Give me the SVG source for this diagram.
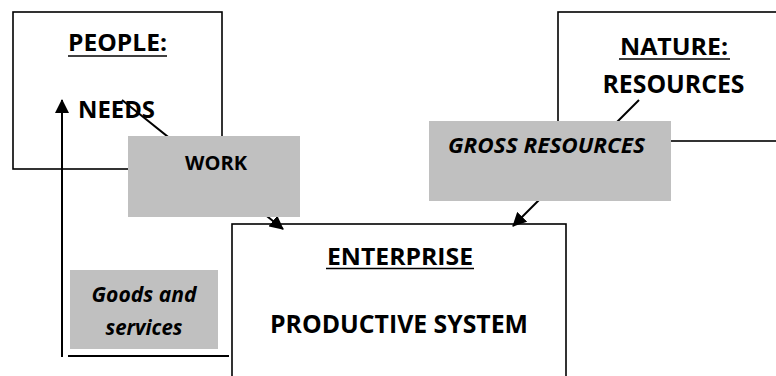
<svg xmlns="http://www.w3.org/2000/svg" width="776" height="376" viewBox="0 0 776 376">
<defs>
<style>
.box{fill:#fff;stroke:#000;stroke-width:1.6}
.lab{fill:#c0c0c0;stroke:none}
.t{font-family:"Open Sans","Liberation Sans",Arial,sans-serif;font-weight:bold;fill:#000;text-anchor:middle}
.i{font-style:italic}
.ul{stroke:#000;stroke-width:1.6}
.c{stroke:#000;stroke-width:2;fill:none}
</style>
<marker id="ah" viewBox="0 0 14 14" refX="13" refY="7" markerWidth="14" markerHeight="14" markerUnits="userSpaceOnUse" orient="auto">
<path d="M0,0 L14,7 L0,14 Z" fill="#000"/>
</marker>
</defs>
<rect width="776" height="376" fill="#fff"/>
<g id="people">
<rect class="box" x="13" y="12" width="209" height="157"/>
<text class="t" x="117.5" y="51" font-size="23.5" textLength="99" lengthAdjust="spacingAndGlyphs">PEOPLE:</text>
<line class="ul" x1="68" y1="56" x2="167" y2="56"/>
<text class="t" x="116.5" y="118" font-size="23.5" textLength="77" lengthAdjust="spacingAndGlyphs">NEEDS</text>
</g>
<g id="nature">
<rect class="box" x="558" y="12" width="230" height="129"/>
<text class="t" x="674" y="55" font-size="24" textLength="108" lengthAdjust="spacingAndGlyphs">NATURE:</text>
<line class="ul" x1="619" y1="59" x2="730" y2="59"/>
<text class="t" x="673.5" y="93" font-size="25" textLength="142" lengthAdjust="spacingAndGlyphs">RESOURCES</text>
</g>
<g id="enterprise">
<rect class="box" x="232" y="224" width="334" height="160"/>
<text class="t" x="400" y="265" font-size="24" textLength="146" lengthAdjust="spacingAndGlyphs">ENTERPRISE</text>
<line class="ul" x1="326" y1="268.5" x2="474" y2="268.5"/>
<text class="t" x="399" y="333" font-size="25" textLength="258" lengthAdjust="spacingAndGlyphs">PRODUCTIVE SYSTEM</text>
</g>
<g id="connectors">
<line class="c" x1="122" y1="100" x2="283" y2="229" marker-end="url(#ah)"/>
<line class="c" x1="639" y1="100" x2="513" y2="226" marker-end="url(#ah)"/>
<line class="c" x1="62" y1="357" x2="62" y2="100" marker-end="url(#ah)"/>
<line class="c" x1="68" y1="356" x2="229" y2="356"/>
</g>
<g id="work">
<rect class="lab" x="128" y="136" width="172" height="81"/>
<text class="t" x="216" y="170" font-size="19.5" textLength="62" lengthAdjust="spacingAndGlyphs">WORK</text>
</g>
<g id="gross-resources">
<rect class="lab" x="429" y="121" width="242" height="80"/>
<text class="t i" x="546.5" y="153" font-size="21" textLength="197" lengthAdjust="spacingAndGlyphs">GROSS RESOURCES</text>
</g>
<g id="goods-services">
<rect class="lab" x="70" y="270" width="148" height="79"/>
<text class="t i" x="144" y="302" font-size="21" textLength="105" lengthAdjust="spacingAndGlyphs">Goods and</text>
<text class="t i" x="144" y="335" font-size="21" textLength="77" lengthAdjust="spacingAndGlyphs">services</text>
</g>
</svg>
